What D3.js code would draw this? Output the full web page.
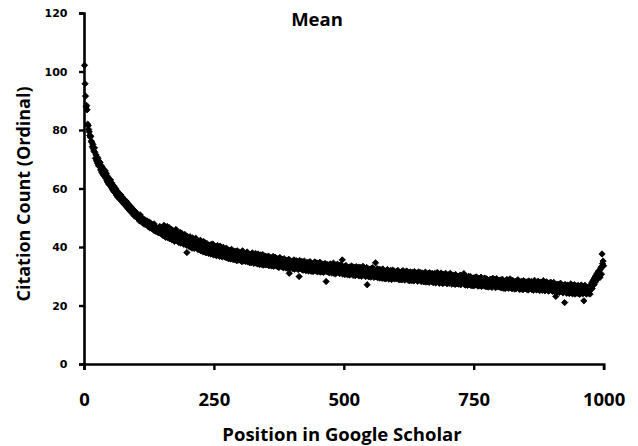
<!DOCTYPE html>
<html>
<head>
<meta charset="utf-8">
<script src="https://cdn.jsdelivr.net/npm/d3@7"></script>
<style>
  body { margin: 0; background: #fff; }
  text { fill: #000; font-weight: bold; }
</style>
</head>
<body>
<div id="chart"></div>
<script>
// Mean citation count (ordinal) for result positions 1..1000
const meanCitations = [
  102.1, 95.8, 91.6, 87.9, 88.4, 86.9, 82.0, 81.5, 80.2, 79.4,
  78.1, 77.6, 77.9, 76.2, 75.8, 74.3, 75.1, 73.6, 72.8, 73.9,
  72.4, 70.3, 71.5, 69.4, 70.8, 68.6, 70.3, 67.8, 69.2, 67.5,
  68.9, 66.4, 67.8, 65.6, 67.3, 65.0, 66.7, 64.4, 66.1, 64.2,
  66.0, 63.5, 65.1, 62.6, 64.2, 62.0, 63.6, 61.4, 63.1, 61.2,
  62.9, 60.6, 62.0, 59.9, 61.4, 59.3, 60.9, 58.8, 60.4, 58.7,
  59.9, 57.8, 59.3, 57.3, 58.8, 56.9, 58.4, 56.5, 58.0, 56.4,
  57.8, 55.8, 57.2, 55.4, 56.7, 54.9, 56.3, 54.5, 55.9, 54.3,
  55.7, 53.7, 55.2, 53.3, 54.7, 52.9, 54.3, 52.4, 53.9, 52.3,
  53.6, 51.7, 53.2, 51.3, 52.8, 50.9, 52.4, 50.5, 52.0, 50.6,
  // 101-200
  50.6, 51.4, 49.8, 50.9, 49.5, 50.2, 48.9, 51.0, 49.3, 50.1,
  48.7, 49.9, 48.2, 49.6, 48.9, 47.8, 49.3, 48.1, 49.0, 47.6,
  48.9, 47.5, 48.4, 46.9, 48.6, 47.3, 46.5, 48.2, 47.0, 46.4,
  47.6, 46.2, 47.1, 45.8, 47.9, 46.0, 45.4, 46.8, 45.9, 46.6,
  45.2, 46.4, 44.9, 46.1, 45.0, 47.0, 44.6, 45.5, 46.3, 44.8,
  46.8, 43.9, 45.2, 47.4, 44.1, 45.9, 43.3, 46.5, 44.6, 47.0,
  43.2, 45.9, 44.0, 46.6, 42.8, 45.3, 43.7, 46.1, 42.5, 44.9,
  45.6, 42.7, 44.3, 41.9, 45.1, 43.4, 46.0, 42.3, 44.8, 42.9,
  44.5, 41.6, 43.9, 42.2, 45.0, 41.3, 43.5, 44.7, 41.8, 42.6,
  43.8, 40.9, 42.7, 44.3, 41.2, 42.9, 40.6, 38.1, 43.6, 41.5,
  // 201-300
  42.9, 40.2, 41.8, 43.5, 40.0, 42.4, 41.0, 39.6, 43.1, 40.8,
  42.6, 39.5, 41.7, 40.1, 43.0, 39.9, 41.3, 42.2, 39.2, 40.6,
  41.8, 39.0, 40.9, 42.3, 38.7, 40.2, 41.5, 38.5, 40.7, 41.9,
  38.3, 40.8, 39.4, 41.4, 38.0, 39.9, 41.1, 38.6, 40.3, 37.8,
  40.6, 38.2, 39.7, 37.6, 40.9, 38.5, 39.3, 41.0, 37.3, 38.8,
  39.9, 37.4, 38.7, 40.2, 37.0, 38.9, 40.5, 37.5, 38.3, 39.6,
  36.8, 40.3, 38.5, 37.1, 39.7, 36.6, 38.9, 39.9, 36.9, 38.0,
  39.3, 36.5, 38.1, 39.6, 36.3, 37.7, 39.0, 36.0, 38.4, 37.2,
  38.9, 35.9, 37.6, 39.2, 36.2, 37.9, 35.7, 38.6, 36.8, 38.3,
  35.6, 38.5, 36.9, 35.3, 38.7, 36.4, 37.8, 35.5, 38.2, 36.6,
  // 301-400
  38.0, 35.4, 36.9, 35.0, 38.7, 36.1, 37.6, 35.2, 37.9, 36.5,
  35.1, 37.7, 36.0, 38.3, 34.9, 36.8, 35.4, 37.4, 34.6, 36.3,
  37.5, 34.7, 36.4, 38.0, 35.0, 36.7, 34.4, 37.2, 35.6, 37.8,
  34.5, 37.1, 35.9, 34.2, 37.6, 35.3, 36.9, 34.0, 36.2, 37.3,
  34.1, 36.6, 35.2, 37.4, 33.8, 35.9, 34.6, 36.9, 33.9, 35.4,
  36.7, 33.9, 35.5, 34.3, 36.9, 33.6, 35.8, 36.4, 34.0, 35.1,
  33.5, 36.3, 34.8, 36.8, 33.4, 35.2, 34.1, 36.5, 33.7, 35.6,
  36.1, 33.3, 34.9, 35.9, 33.0, 34.5, 36.4, 33.6, 35.3, 34.0,
  35.8, 33.1, 34.6, 32.9, 36.0, 34.2, 33.4, 35.5, 32.8, 34.9,
  35.4, 32.7, 34.3, 35.8, 31.0, 33.9, 32.9, 35.2, 33.5, 34.6,
  // 401-500
  32.6, 35.1, 33.7, 35.6, 32.4, 34.2, 33.0, 35.3, 32.8, 34.5,
  35.0, 32.3, 33.9, 29.9, 35.4, 32.6, 34.3, 33.1, 35.1, 32.2,
  34.8, 32.1, 33.6, 35.2, 32.5, 34.0, 31.9, 34.6, 33.2, 32.4,
  34.7, 31.8, 33.5, 32.4, 35.0, 33.0, 31.7, 34.3, 32.6, 33.9,
  31.6, 34.4, 32.8, 34.9, 31.9, 33.3, 32.2, 34.6, 31.5, 33.1,
  34.3, 31.7, 33.0, 34.8, 31.4, 32.9, 33.7, 31.6, 34.1, 32.3,
  31.3, 33.9, 32.5, 34.4, 31.8, 28.2, 33.2, 31.5, 34.0, 32.7,
  33.8, 31.2, 32.6, 34.2, 31.6, 32.9, 31.1, 33.6, 32.0, 34.5,
  31.0, 33.5, 32.3, 30.8, 33.9, 31.7, 32.8, 34.1, 31.3, 32.5,
  33.6, 30.9, 32.2, 33.9, 31.2, 32.7, 35.6, 30.7, 33.2, 31.8,
  // 501-600
  33.3, 30.6, 32.1, 33.7, 31.0, 32.6, 30.5, 33.0, 31.5, 32.9,
  30.4, 33.2, 31.9, 30.8, 33.5, 31.3, 32.7, 30.3, 33.1, 31.6,
  32.9, 30.2, 31.7, 33.3, 30.6, 32.3, 31.1, 33.0, 30.1, 32.0,
  33.1, 30.5, 31.8, 30.0, 32.7, 31.2, 33.4, 30.4, 32.2, 31.0,
  32.6, 29.9, 31.5, 33.0, 27.1, 30.7, 32.4, 29.8, 32.0, 31.1,
  32.5, 29.7, 31.4, 30.2, 32.9, 30.6, 31.9, 29.6, 32.3, 30.9,
  34.6, 29.8, 31.3, 32.6, 29.5, 31.7, 30.3, 32.4, 29.4, 30.8,
  32.2, 29.6, 31.1, 29.3, 32.5, 30.5, 31.8, 29.2, 31.4, 30.1,
  29.1, 31.9, 30.4, 32.3, 29.4, 30.9, 29.0, 31.6, 30.2, 32.0,
  31.5, 28.9, 30.7, 32.1, 29.3, 30.3, 31.8, 29.1, 30.0, 31.2,
  // 601-700
  29.2, 31.7, 30.1, 32.0, 28.9, 30.6, 31.3, 28.8, 31.0, 29.7,
  31.6, 28.8, 30.4, 31.9, 29.1, 30.0, 28.7, 31.4, 29.5, 30.8,
  31.8, 29.0, 30.6, 28.6, 31.2, 29.7, 28.5, 31.5, 29.3, 30.9,
  28.5, 31.3, 29.6, 30.7, 28.4, 31.6, 29.2, 30.4, 28.8, 31.1,
  30.6, 28.3, 29.8, 31.5, 28.7, 30.3, 29.0, 31.2, 28.2, 29.6,
  31.1, 28.4, 29.9, 28.1, 30.7, 29.3, 31.4, 28.0, 29.6, 30.5,
  28.2, 30.9, 29.4, 27.9, 31.2, 28.8, 30.2, 28.3, 29.7, 31.0,
  29.0, 27.8, 30.6, 28.5, 31.0, 29.2, 27.7, 30.3, 28.7, 31.3,
  30.8, 28.0, 29.5, 27.6, 30.4, 28.9, 31.1, 28.2, 29.9, 27.5,
  30.7, 27.7, 29.3, 30.2, 27.9, 31.0, 28.4, 29.8, 27.4, 30.4,
  // 701-800
  28.1, 30.5, 27.6, 29.7, 31.0, 28.3, 29.4, 27.3, 30.1, 28.7,
  30.3, 27.5, 29.0, 27.2, 30.6, 28.2, 29.6, 27.4, 30.0, 28.6,
  27.3, 29.9, 28.4, 30.4, 27.1, 28.9, 27.8, 30.2, 28.0, 29.5,
  30.9, 27.2, 28.6, 27.0, 29.8, 28.1, 29.4, 26.9, 28.8, 30.0,
  27.1, 29.6, 28.0, 29.9, 26.8, 28.5, 27.4, 29.3, 26.7, 28.9,
  29.5, 26.9, 28.3, 27.2, 29.8, 27.7, 28.9, 26.6, 29.2, 27.4,
  26.7, 29.3, 27.9, 29.7, 26.5, 28.5, 27.1, 29.0, 26.8, 28.2,
  29.4, 26.6, 28.0, 26.4, 29.1, 27.5, 28.7, 26.3, 28.4, 27.0,
  26.5, 29.0, 27.3, 28.8, 26.2, 27.9, 29.3, 26.7, 28.2, 26.9,
  28.9, 26.1, 27.6, 29.2, 26.6, 28.3, 26.4, 28.6, 27.0, 26.3,
  // 801-900
  28.7, 26.2, 27.5, 26.0, 29.0, 27.1, 28.4, 25.9, 28.1, 26.8,
  25.8, 28.5, 27.0, 28.9, 26.3, 27.6, 25.9, 28.2, 26.6, 29.1,
  26.0, 28.4, 26.7, 25.7, 28.6, 27.2, 26.1, 28.0, 25.6, 27.7,
  28.3, 25.8, 27.4, 26.2, 28.8, 26.5, 27.9, 25.5, 28.1, 26.9,
  25.6, 28.2, 26.6, 27.8, 25.4, 28.5, 26.3, 27.5, 25.9, 28.0,
  27.4, 25.5, 28.1, 26.4, 25.3, 28.4, 26.9, 25.8, 27.7, 26.1,
  28.2, 25.4, 26.8, 27.9, 25.2, 26.5, 28.6, 25.7, 27.3, 26.0,
  25.3, 27.8, 26.2, 28.3, 25.6, 27.1, 25.1, 28.0, 26.4, 27.5,
  27.9, 25.2, 26.7, 28.5, 25.5, 26.9, 25.0, 27.6, 26.1, 28.1,
  25.4, 27.7, 26.0, 24.9, 27.3, 26.6, 25.3, 28.0, 25.8, 26.9,
  // 901-1000
  27.5, 24.8, 26.3, 27.9, 25.1, 26.8, 24.7, 23.1, 27.2, 25.6,
  24.6, 27.3, 25.5, 26.9, 24.5, 26.2, 27.6, 24.8, 25.9, 27.0,
  25.2, 24.3, 26.9, 25.6, 21.0, 27.2, 24.6, 26.0, 24.2, 26.5,
  27.0, 24.4, 25.8, 24.1, 26.7, 25.3, 27.4, 24.5, 25.9, 24.0,
  26.8, 24.3, 25.5, 27.1, 23.9, 25.9, 24.6, 26.6, 24.2, 25.2,
  26.9, 24.1, 25.4, 23.8, 26.4, 25.0, 27.0, 24.4, 25.7, 24.0,
  26.6, 21.6, 25.1, 26.9, 24.3, 25.8, 23.9, 26.2, 24.6, 25.3,
  24.2, 26.4, 25.0, 23.9, 26.5, 25.6, 27.7, 25.8, 28.3, 26.9,
  28.9, 27.3, 29.6, 28.0, 30.2, 28.6, 30.8, 29.2, 31.4, 30.0,
  31.9, 30.4, 29.6, 32.4, 33.1, 30.7, 37.6, 34.3, 35.2, 33.6
];

const xTicks = [0, 250, 500, 750, 1000];
const yTicks = [0, 20, 40, 60, 80, 100, 120];

const titleText = "Mean";
const xTitle = "Position in Google Scholar";
const yTitle = "Citation Count (Ordinal)";

// 1. Basic layout
const margin = { top: 13, right: 34.4, bottom: 82, left: 84 };
const width = 638 - margin.left - margin.right;
const height = 446 - margin.top - margin.bottom;

const svg = d3.select("#chart")
  .append("svg")
  .attr("width", 638)
  .attr("height", 446);

const g = svg.append("g")
  .attr("transform", `translate(${margin.left},${margin.top})`);

// 2. Scales
const x = d3.scaleLinear().domain([0, 1000]).range([0, width]);
const y = d3.scaleLinear().domain([0, 120]).range([height, 0]);

// 3. Axes
const xAxis = g.append("g")
  .attr("transform", `translate(0,${height})`)
  .call(d3.axisBottom(x).tickValues(xTicks).tickSize(6).tickPadding(23).tickFormat(d3.format("d")));

xAxis.selectAll("text")
  .attr("font-family", "'Open Sans', sans-serif")
  .attr("font-size", 18.5);

const yAxis = g.append("g")
  .call(d3.axisLeft(y).tickValues(yTicks).tickSize(5).tickPadding(11.5));

yAxis.selectAll("text")
  .attr("font-family", "'DejaVu Sans', sans-serif")
  .attr("font-size", 11);

[xAxis, yAxis].forEach(a => {
  a.select(".domain").attr("stroke", "#000").attr("stroke-width", 2.6);
  a.selectAll(".tick line").attr("stroke", "#000").attr("stroke-width", 2.4);
  a.selectAll("text").attr("fill", "#000").attr("font-weight", "bold");
});

// 4. Points (diamond markers)
const diamond = d3.symbol().type(d3.symbolSquare).size(20);

g.append("g")
  .selectAll("path")
  .data(meanCitations)
  .enter()
  .append("path")
  .attr("d", diamond)
  .attr("transform", (d, i) => `translate(${x(i + 1)},${y(d)}) rotate(45)`)
  .attr("fill", "#000")
  .attr("stroke", "#000")
  .attr("stroke-width", 0.8);

// 5. Titles
svg.append("text")
  .attr("x", 317)
  .attr("y", 26)
  .attr("text-anchor", "middle")
  .attr("font-family", "'Open Sans', sans-serif")
  .attr("font-size", 18.5)
  .text(titleText);

svg.append("text")
  .attr("x", 342)
  .attr("y", 441)
  .attr("text-anchor", "middle")
  .attr("font-family", "'Open Sans', sans-serif")
  .attr("font-size", 18.5)
  .text(xTitle);

svg.append("text")
  .attr("transform", "rotate(-90)")
  .attr("x", -194)
  .attr("y", 30)
  .attr("text-anchor", "middle")
  .attr("font-family", "'Open Sans', sans-serif")
  .attr("font-size", 18)
  .text(yTitle);
</script>
</body>
</html>
